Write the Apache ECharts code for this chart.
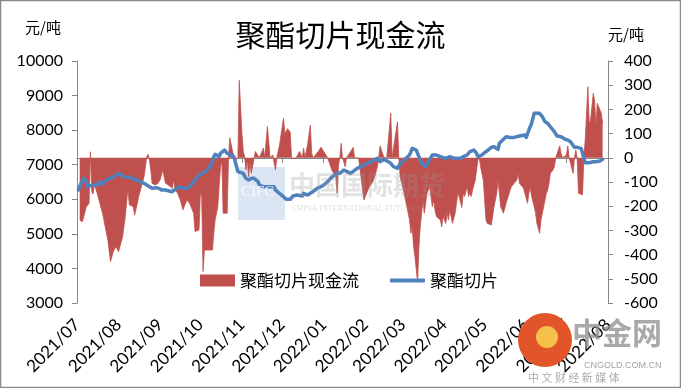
<!DOCTYPE html>
<html><head><meta charset="utf-8">
<script src="https://cdn.jsdelivr.net/npm/echarts@6/dist/echarts.min.js"></script>
<style>html,body{margin:0;padding:0;background:#fff}#c{width:681px;height:388px}</style>
</head><body><div id="c"></div>
<script>
// ---- data ----
const chartTitle = '聚酯切片现金流';
const seriesNames = ['聚酯切片现金流', '聚酯切片'];
const unitLabel = '元/吨';
const leftTicks = [3000, 10000, 1000];   // min, max, step
const rightTicks = [-600, 400, 100];
const xRange = ['2021-07-01', '2022-08-01'];

// cash flow (right axis), [date, 元/吨]
const cashFlow = [
['2021-07-03',-257],['2021-07-05',-264],['2021-07-07',-223],['2021-07-08',-202],['2021-07-10',-188],
['2021-07-11',25],['2021-07-12',-140],['2021-07-13',-150],['2021-07-14',-110],['2021-07-16',-146],
['2021-07-18',-187],['2021-07-20',-228],['2021-07-21',-256],['2021-07-24',-340],['2021-07-26',-429],
['2021-07-28',-388],['2021-07-30',-367],['2021-08-01',-388],['2021-08-04',-326],['2021-08-06',-243],
['2021-08-08',-125],['2021-08-09',-194],['2021-08-12',-202],['2021-08-13',-236],['2021-08-15',-188],
['2021-08-16',-160],['2021-08-18',-119],['2021-08-20',-78],['2021-08-22',4],['2021-08-23',15],
['2021-08-24',-8],['2021-08-25',-50],['2021-08-26',-105],['2021-08-28',-112],['2021-08-30',-108],
['2021-09-01',-91],['2021-09-03',-50],['2021-09-05',-105],['2021-09-07',-112],['2021-09-10',-126],
['2021-09-11',-90],['2021-09-12',-133],['2021-09-14',-146],['2021-09-16',-174],['2021-09-18',-215],
['2021-09-21',-174],['2021-09-23',-188],['2021-09-26',-229],['2021-09-27',-305],['2021-09-30',-298],
['2021-10-01',-146],['2021-10-02',-160],['2021-10-03',-470],['2021-10-04',-381],['2021-10-10',-381],
['2021-10-11',-312],['2021-10-12',-257],['2021-10-14',-202],['2021-10-15',-119],['2021-10-16',-40],
['2021-10-17',-10],['2021-10-18',-229],['2021-10-21',-229],['2021-10-22',0],['2021-10-23',82],
['2021-10-25',26],['2021-10-27',-10],['2021-10-29',0],['2021-10-30',320],['2021-11-01',100],
['2021-11-02',26],['2021-11-03',5],['2021-11-04',-50],['2021-11-05',-10],['2021-11-06',-78],
['2021-11-07',-20],['2021-11-08',-64],['2021-11-11',26],['2021-11-14',0],['2021-11-17',40],
['2021-11-18',0],['2021-11-20',129],['2021-11-22',0],['2021-11-24',12],['2021-11-26',-50],
['2021-11-27',0],['2021-11-29',52],['2021-12-02',163],['2021-12-03',100],['2021-12-05',120],
['2021-12-07',107],['2021-12-08',0],['2021-12-11',-4],['2021-12-14',26],['2021-12-16',0],
['2021-12-17',40],['2021-12-18',0],['2021-12-20',55],['2021-12-22',135],['2021-12-23',20],
['2021-12-24',0],['2021-12-26',13],['2021-12-28',26],['2021-12-30',44],['2022-01-01',26],
['2022-01-04',0],['2022-01-07',-50],['2022-01-10',-78],['2022-01-11',-146],['2022-01-12',-30],
['2022-01-13',0],['2022-01-14',60],['2022-01-15',0],['2022-01-17',-37],['2022-01-18',0],
['2022-01-23',43],['2022-01-24',0],['2022-01-27',0],['2022-01-30',-133],['2022-01-31',-174],
['2022-02-01',-160],['2022-02-04',-119],['2022-02-06',-105],['2022-02-08',-78],['2022-02-10',-37],
['2022-02-11',0],['2022-02-12',49],['2022-02-15',0],['2022-02-17',0],['2022-02-20',184],
['2022-02-21',0],['2022-02-22',0],['2022-02-25',149],['2022-02-26',0],['2022-02-27',-78],
['2022-03-02',-147],['2022-03-04',-202],['2022-03-06',-257],['2022-03-07',-312],['2022-03-08',-285],
['2022-03-09',-367],['2022-03-10',-408],['2022-03-12',-515],['2022-03-13',-367],['2022-03-14',-285],
['2022-03-15',-229],['2022-03-16',-174],['2022-03-17',-229],['2022-03-19',-147],['2022-03-21',-119],
['2022-03-23',-202],['2022-03-24',-174],['2022-03-25',-216],['2022-03-26',-243],['2022-03-29',-257],
['2022-03-30',-285],['2022-03-31',-243],['2022-04-02',-271],['2022-04-03',-229],['2022-04-04',-257],
['2022-04-05',-216],['2022-04-06',-243],['2022-04-07',-271],['2022-04-09',-229],['2022-04-10',-188],
['2022-04-11',-147],['2022-04-12',-160],['2022-04-14',-205],['2022-04-15',-147],['2022-04-16',-160],
['2022-04-18',-119],['2022-04-19',-160],['2022-04-20',-147],['2022-04-21',-160],['2022-04-22',-133],
['2022-04-24',-92],['2022-04-25',-50],['2022-04-26',-9],['2022-04-27',0],['2022-04-28',-37],
['2022-04-30',-92],['2022-05-01',-174],['2022-05-02',-257],['2022-05-03',-271],['2022-05-06',-278],
['2022-05-07',-285],['2022-05-08',-202],['2022-05-10',-147],['2022-05-11',-92],['2022-05-12',-147],
['2022-05-13',-202],['2022-05-15',-229],['2022-05-17',-188],['2022-05-20',-133],['2022-05-21',-119],
['2022-05-22',-126],['2022-05-23',-105],['2022-05-25',-92],['2022-05-26',-64],['2022-05-27',-105],
['2022-05-30',-126],['2022-05-31',-147],['2022-06-02',-188],['2022-06-03',-147],['2022-06-04',-119],
['2022-06-05',-160],['2022-06-07',-202],['2022-06-08',-229],['2022-06-09',-271],['2022-06-11',-312],
['2022-06-12',-257],['2022-06-14',-202],['2022-06-15',-174],['2022-06-16',-147],['2022-06-17',-133],
['2022-06-18',-105],['2022-06-19',-64],['2022-06-21',-50],['2022-06-22',-37],['2022-06-23',0],
['2022-06-26',49],['2022-06-27',18],['2022-06-28',0],['2022-07-01',11],['2022-07-02',49],
['2022-07-03',0],['2022-07-06',-64],['2022-07-07',0],['2022-07-08',32],['2022-07-09',0],
['2022-07-10',-147],['2022-07-13',-153],['2022-07-14',0],['2022-07-15',73],['2022-07-17',294],
['2022-07-18',142],['2022-07-19',156],['2022-07-21',266],['2022-07-22',239],['2022-07-23',128],
['2022-07-24',225],['2022-07-26',198],['2022-07-27',184],['2022-07-28',142]
];

// chip price (left axis), [date, 元/吨]
const chipPrice = [
['2021-07-02',6268],['2021-07-04',6461],['2021-07-06',6605],['2021-07-08',6509],['2021-07-09',6364],
['2021-07-13',6413],['2021-07-14',6461],['2021-07-16',6413],['2021-07-18',6509],['2021-07-20',6432],
['2021-07-21',6384],['2021-07-23',6557],['2021-07-25',6605],['2021-07-28',6634],['2021-07-30',6702],
['2021-08-01',6750],['2021-08-03',6702],['2021-08-05',6654],['2021-08-08',6634],['2021-08-10',6634],
['2021-08-12',6586],['2021-08-15',6557],['2021-08-17',6509],['2021-08-20',6461],['2021-08-22',6413],
['2021-08-24',6364],['2021-08-26',6316],['2021-08-29',6336],['2021-08-31',6316],['2021-09-02',6268],
['2021-09-05',6268],['2021-09-07',6249],['2021-09-10',6220],['2021-09-11',6268],['2021-09-13',6316],
['2021-09-16',6364],['2021-09-18',6316],['2021-09-21',6316],['2021-09-23',6364],['2021-09-25',6461],
['2021-09-27',6557],['2021-09-30',6702],['2021-10-02',6750],['2021-10-05',6798],['2021-10-07',6895],
['2021-10-09',6991],['2021-10-11',7232],['2021-10-12',7300],['2021-10-15',7232],['2021-10-16',7329],
['2021-10-19',7425],['2021-10-20',7377],['2021-10-21',7329],['2021-10-24',7281],['2021-10-26',7232],
['2021-10-27',7088],['2021-10-28',6943],['2021-10-29',6798],['2021-11-02',6750],['2021-11-04',6605],
['2021-11-06',6557],['2021-11-07',6509],['2021-11-08',6605],['2021-11-10',6605],['2021-11-13',6509],
['2021-11-14',6413],['2021-11-17',6364],['2021-11-19',6364],['2021-11-20',6316],['2021-11-23',6364],
['2021-11-25',6364],['2021-11-26',6268],['2021-11-29',6172],['2021-12-02',6075],['2021-12-04',5998],
['2021-12-07',5998],['2021-12-09',6094],['2021-12-12',6123],['2021-12-16',6094],['2021-12-17',6172],
['2021-12-20',6123],['2021-12-22',6172],['2021-12-24',6220],['2021-12-27',6316],['2021-12-30',6364],
['2022-01-01',6413],['2022-01-04',6509],['2022-01-06',6605],['2022-01-09',6702],['2022-01-11',6751],
['2022-01-13',6751],['2022-01-16',6847],['2022-01-21',6751],['2022-01-26',6896],['2022-01-31',6991],
['2022-02-05',7087],['2022-02-10',7185],['2022-02-12',7087],['2022-02-15',7156],['2022-02-20',7040],
['2022-02-22',6942],['2022-02-25',6896],['2022-02-27',7040],['2022-03-02',7136],['2022-03-06',7281],
['2022-03-08',7474],['2022-03-09',7521],['2022-03-11',7425],['2022-03-13',7231],['2022-03-15',7040],
['2022-03-18',6942],['2022-03-20',7087],['2022-03-23',7281],['2022-03-26',7281],['2022-03-29',7231],
['2022-04-02',7185],['2022-04-05',7231],['2022-04-09',7185],['2022-04-13',7185],['2022-04-15',7231],
['2022-04-18',7281],['2022-04-20',7376],['2022-04-23',7425],['2022-04-25',7329],['2022-04-26',7231],
['2022-04-29',7281],['2022-05-01',7350],['2022-05-03',7405],['2022-05-06',7503],['2022-05-08',7521],
['2022-05-11',7445],['2022-05-12',7619],['2022-05-15',7735],['2022-05-17',7810],['2022-05-20',7790],
['2022-05-23',7790],['2022-05-27',7830],['2022-05-31',7859],['2022-06-01',7790],['2022-06-03',8004],
['2022-06-05',8198],['2022-06-07',8487],['2022-06-08',8533],['2022-06-11',8487],['2022-06-13',8389],
['2022-06-15',8244],['2022-06-17',8198],['2022-06-19',8099],['2022-06-22',7955],['2022-06-24',7830],
['2022-06-27',7810],['2022-06-30',7735],['2022-07-02',7714],['2022-07-04',7665],['2022-07-07',7503],
['2022-07-09',7503],['2022-07-12',7474],['2022-07-14',7185],['2022-07-15',7058],['2022-07-18',7058],
['2022-07-21',7087],['2022-07-23',7087],['2022-07-26',7107],['2022-07-28',7156]
];

// ---- chart ----
const RED = '#C0504D', BLUE = '#4F81BD', AX = '#868686';
const LAT = 'Lato, "Liberation Sans", sans-serif';
const CJK = '"Noto Sans CJK SC", sans-serif';
function toTime(s){ const p = s.split('-').map(Number); return new Date(p[0], p[1]-1, p[2]).getTime(); }
const chart = echarts.init(document.getElementById('c'), null, {renderer:'canvas'});
chart.setOption({
  animation:false,
  backgroundColor:'#fff',
  title:{text:chartTitle, left:'center', top:15,
    textStyle:{fontFamily:CJK, fontSize:30, fontWeight:'normal', color:'#000'}},
  grid:{left:77, right:73, top:61, bottom:85},
  legend:[
    {data:[seriesNames[0]], left:195, top:267, icon:'rect', itemWidth:35, itemHeight:12, itemGap:10,
     textStyle:{fontFamily:CJK, fontSize:17, color:'#000'}},
    {data:[seriesNames[1]], left:385, top:267, icon:'roundRect', itemWidth:35, itemHeight:4,
     textStyle:{fontFamily:CJK, fontSize:17, color:'#000'}}
  ],
  xAxis:{type:'time', min:toTime(xRange[0]), max:toTime(xRange[1]), splitNumber:13,
    axisLine:{lineStyle:{color:AX, width:1}},
    axisTick:{show:true, length:5, lineStyle:{color:AX}},
    splitLine:{show:false},
    axisLabel:{rotate:45, fontFamily:LAT, fontSize:17, color:'#000', margin:19, hideOverlap:false,
      showMinLabel:true, showMaxLabel:true,
      formatter:function(v){ const d=new Date(v); return d.getFullYear()+'/'+String(d.getMonth()+1).padStart(2,'0'); }}
  },
  yAxis:[
    {type:'value', position:'left', min:leftTicks[0], max:leftTicks[1], interval:leftTicks[2],
     name:unitLabel, nameLocation:'end', nameGap:26,
     nameTextStyle:{fontFamily:CJK, fontSize:15, color:'#000', align:'right', padding:[0,16,0,0]},
     axisLine:{show:true, lineStyle:{color:AX}}, axisTick:{show:true, length:5, lineStyle:{color:AX}},
     splitLine:{show:false},
     axisLabel:{fontFamily:LAT, fontSize:16, color:'#000', margin:14, formatter:function(v){return String(v);}}},
    {type:'value', position:'right', min:rightTicks[0], max:rightTicks[1], interval:rightTicks[2],
     name:unitLabel, nameLocation:'end', nameGap:19,
     nameTextStyle:{fontFamily:CJK, fontSize:15, color:'#000', align:'left', padding:[0,0,0,0]},
     axisLine:{show:true, lineStyle:{color:AX}}, axisTick:{show:true, length:5, lineStyle:{color:AX}},
     splitLine:{show:false},
     axisLabel:{fontFamily:LAT, fontSize:16, color:'#000', margin:16, formatter:function(v){return String(v);}}}
  ],
  series:[
    {name:seriesNames[0], type:'line', yAxisIndex:1, data:cashFlow, symbol:'none', showSymbol:false,
     itemStyle:{color:RED}, lineStyle:{color:RED, width:0.8}, areaStyle:{color:RED, opacity:1}, z:2},
    {name:seriesNames[1], type:'line', yAxisIndex:0, data:chipPrice, symbol:'none', showSymbol:false,
     itemStyle:{color:BLUE}, lineStyle:{color:BLUE, width:3.5, cap:'round', join:'round'}, z:3}
  ],
  graphic:[
    {type:'rect', silent:true, z:0, shape:{x:238, y:167, width:47, height:53}, style:{fill:'rgba(190,210,235,0.55)'}},
    {type:'text', silent:true, z:10, left:241, top:185, style:{text:'CIFC', fill:'rgba(255,255,255,0.8)', font:'15px "Liberation Serif"'}},
    {type:'text', silent:true, z:10, left:289, top:172, style:{text:'中国国际期货', fill:'rgba(150,150,150,0.28)', font:'bold 26px "Noto Sans CJK SC"'}},
    {type:'text', silent:true, z:10, left:292, top:205, style:{text:'CHINA INTERNATIONAL FUTURES', fill:'rgba(150,150,150,0.3)', font:'8px "Liberation Serif"'}},
    {type:'circle', silent:true, z:20, shape:{cx:545, cy:340, r:27}, style:{fill:'#E2542A'}},
    {type:'circle', silent:true, z:21, shape:{cx:547, cy:337, r:11}, style:{fill:'#F6C14B'}},
    {type:'text', silent:true, z:20, left:572, top:318, style:{text:'中金网', fill:'rgba(140,140,140,0.75)', font:'bold 30px "Noto Sans CJK SC"'}},
    {type:'text', silent:true, z:20, left:584, top:361, style:{text:'CNGOLD.COM.CN', fill:'rgba(140,140,140,0.8)', font:'9px "Liberation Sans"'}},
    {type:'text', silent:true, z:20, left:528, top:372, style:{text:'中 文 财 经 新 媒 体', fill:'rgba(150,150,150,0.8)', font:'11px "Noto Sans CJK SC"'}},
    {type:'rect', silent:true, z:30, shape:{x:0.5, y:0.5, width:680, height:387}, style:{fill:'none', stroke:'#8a8a8a', lineWidth:1.5}}
  ]
});
</script></body></html>
